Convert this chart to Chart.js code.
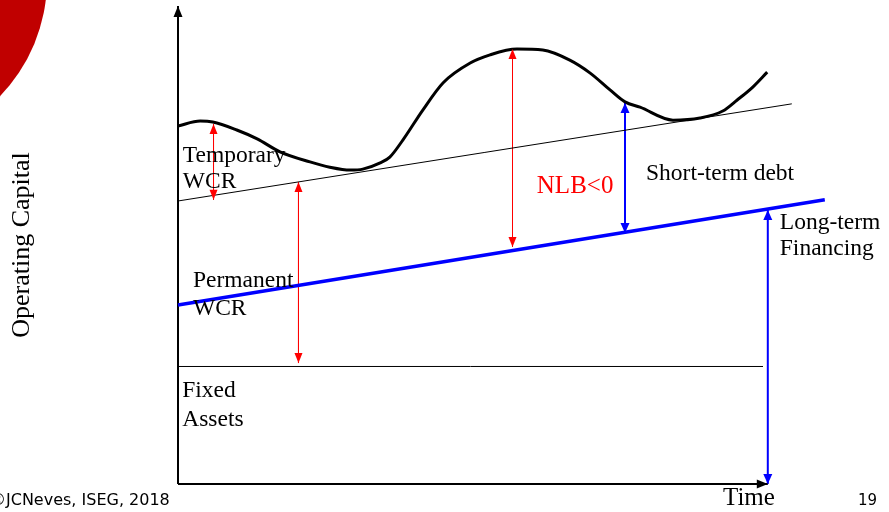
<!DOCTYPE html>
<html>
<head>
<meta charset="utf-8">
<script src="https://cdn.jsdelivr.net/npm/chart.js@4"></script>
<style>
  html, body { margin: 0; padding: 0; background: #fff; }
  #wrap { width: 889px; height: 512px; position: relative; }
</style>
</head>
<body>
<div id="wrap"><canvas id="wcrChart"></canvas></div>
<script>
// time axis 0..110, capital axis 0..100
const needTime = [0, 3.7, 5.8, 9.8, 13.2, 17, 22, 25.3, 28.7, 30.8, 33.7, 35.3, 37.5, 40.8, 44.2, 48.7, 52, 56.5, 60.8, 65.3, 68.7, 72, 74.5, 77, 82.5, 87, 90.8, 93.2, 95.8, 98.2];
const needValues = [74.6, 75.6, 75.4, 73.75, 71.9, 69.2, 67.1, 66.0, 65.4, 65.6, 66.9, 68.1, 71.7, 77.9, 83.6, 87.7, 89.4, 90.6, 90.4, 88.3, 85.6, 82.1, 79.6, 78.5, 75.8, 76.25, 77.7, 80, 82.7, 85.8];

const trendTime = [0, 102.3];
const trendValues = [58.96, 79.2];

const permanentTime = [0, 107.8];
const permanentValues = [37.3, 59.2];

const fixedTime = [0, 97.5];
const fixedValues = [24.48, 24.48];

// double arrows: x, from, to
const redArrowX = [5.92, 20.08, 55.75];
const redArrowFrom = [75.0, 62.9, 90.6];
const redArrowTo = [59.2, 25.2, 49.4];
const blueArrowX = [74.5, 98.3];
const blueArrowFrom = [79.4, 57.1];
const blueArrowTo = [52.3, 0];

const toPoints = (xs, ys) => xs.map((x, i) => ({ x, y: ys[i] }));

const datasets = [
  { data: toPoints(needTime, needValues), borderColor: "#000", borderWidth: 3, cubicInterpolationMode: "monotone" },
  { data: toPoints(trendTime, trendValues), borderColor: "#000", borderWidth: 1 },
  { data: toPoints(permanentTime, permanentValues), borderColor: "#0000ff", borderWidth: 3.5 },
  { data: toPoints(fixedTime, fixedValues), borderColor: "#000", borderWidth: 1 },
  { data: [{ x: 0, y: 0 }, { x: 0, y: 99.6 }], borderColor: "#000", borderWidth: 2, arrow: "end", headLen: 11, headW: 9 },
  { data: [{ x: 0, y: 0 }, { x: 98.3, y: 0 }], borderColor: "#000", borderWidth: 2, arrow: "end", headLen: 11, headW: 9 },
];

redArrowX.forEach((x, i) => {
  datasets.push({
    data: [{ x, y: redArrowFrom[i] }, { x, y: redArrowTo[i] }],
    borderColor: "#ff0000", borderWidth: 1, arrow: "both", headLen: 10, headW: 8,
  });
});
blueArrowX.forEach((x, i) => {
  datasets.push({
    data: [{ x, y: blueArrowFrom[i] }, { x, y: blueArrowTo[i] }],
    borderColor: "#0000ff", borderWidth: 2, arrow: "both", headLen: 10, headW: 9,
  });
});
datasets.forEach((d) => { d.pointRadius = 0; d.showLine = true; d.clip = false; d.fill = false; });

const chartLabels = [
  { text: "Temporary", x: 0.8, y: 67.1 },
  { text: "WCR", x: 0.8, y: 61.7 },
  { text: "Permanent", x: 2.5, y: 41.0 },
  { text: "WCR", x: 2.5, y: 35.2 },
  { text: "Fixed", x: 0.7, y: 18.1 },
  { text: "Assets", x: 0.7, y: 12.1 },
  { text: "NLB<0", x: 59.8, y: 60.6, color: "#ff0000", size: 25 },
  { text: "Short-term debt", x: 78, y: 63.3 },
  { text: "Long-term", x: 100.3, y: 53.1 },
  { text: "Financing", x: 100.3, y: 47.7 },
];

function drawHead(ctx, tip, from, len, w, color) {
  const a = Math.atan2(tip.y - from.y, tip.x - from.x);
  ctx.save();
  ctx.translate(tip.x, tip.y);
  ctx.rotate(a);
  ctx.fillStyle = color;
  ctx.beginPath();
  ctx.moveTo(0, 0);
  ctx.lineTo(-len, -w / 2);
  ctx.lineTo(-len, w / 2);
  ctx.closePath();
  ctx.fill();
  ctx.restore();
}

const slidePlugin = {
  id: "slide",
  beforeDraw(chart) {
    const ctx = chart.ctx;
    ctx.save();
    ctx.fillStyle = "#c00000";
    ctx.beginPath();
    ctx.arc(-120, -20, 167, 0, Math.PI * 2);
    ctx.fill();
    ctx.restore();
  },
  afterDatasetsDraw(chart) {
    const ctx = chart.ctx;
    chart.data.datasets.forEach((ds, i) => {
      if (!ds.arrow) return;
      const pts = chart.getDatasetMeta(i).data;
      const a = pts[0], b = pts[pts.length - 1];
      drawHead(ctx, b, a, ds.headLen, ds.headW, ds.borderColor);
      if (ds.arrow === "both") drawHead(ctx, a, b, ds.headLen, ds.headW, ds.borderColor);
    });
  },
  afterDraw(chart) {
    const ctx = chart.ctx;
    const xs = chart.scales.x, ys = chart.scales.y;
    ctx.save();
    ctx.textBaseline = "alphabetic";
    ctx.textAlign = "left";
    chartLabels.forEach((l) => {
      ctx.fillStyle = l.color || "#000";
      ctx.font = (l.size || 23.5) + "px 'Liberation Serif', serif";
      ctx.fillText(l.text, xs.getPixelForValue(l.x), ys.getPixelForValue(l.y));
    });

    ctx.fillStyle = "#000";
    ctx.font = "25px 'Liberation Serif', serif";
    ctx.fillText("Time", 723, 505);

    ctx.save();
    ctx.translate(29, 245);
    ctx.rotate(-Math.PI / 2);
    ctx.textAlign = "center";
    ctx.font = "26px 'Liberation Serif', serif";
    ctx.fillText("Operating Capital", 0, 0);
    ctx.restore();

    ctx.font = "16px 'DejaVu Sans', sans-serif";
    ctx.fillText("\u00A9JCNeves, ISEG, 2018", -10, 505);
    ctx.font = "15px 'DejaVu Sans', sans-serif";
    ctx.fillText("19", 858, 505);
    ctx.restore();
  },
};

new Chart(document.getElementById("wcrChart"), {
  type: "scatter",
  data: { datasets },
  options: {
    responsive: true,
    maintainAspectRatio: false,
    animation: false,
    layout: { padding: { left: 178, right: 51, top: 4, bottom: 28 } },
    scales: {
      x: { type: "linear", min: 0, max: 110, display: false },
      y: { type: "linear", min: 0, max: 100, display: false },
    },
    plugins: {
      legend: { display: false },
      tooltip: { enabled: false },
    },
  },
  plugins: [slidePlugin],
});
</script>
</body>
</html>
